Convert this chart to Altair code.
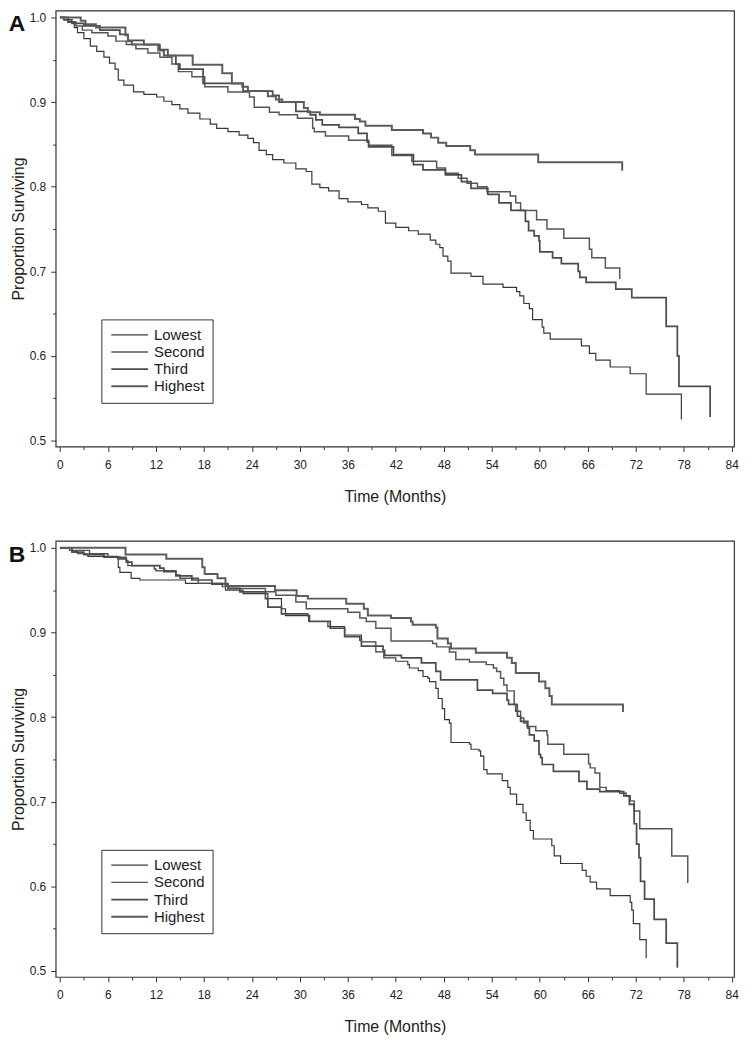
import altair as alt
import pandas as pd

SERIES = ["Lowest", "Second", "Third", "Highest"]
COLORS = ["#383838", "#555555", "#4b4b4b", "#5c5c5c"]
WIDTHS = [1.2, 2.0, 2.2, 2.0]

# ---- Panel A: (time in months, proportion surviving) step points ----
A_LOWEST = [(0, 1.0), (1.0, 0.994), (1.8, 0.988), (2.2, 0.982), (3.0, 0.975), (3.8, 0.966), (4.6, 0.960),
            (5.5, 0.953), (6.2, 0.946), (6.9, 0.939), (7.3, 0.926), (8.0, 0.920), (9.2, 0.912), (10.5, 0.909),
            (12.1, 0.906), (13.0, 0.901), (14.0, 0.897), (15.0, 0.892), (16.0, 0.887), (17.5, 0.880),
            (18.8, 0.874), (19.6, 0.869), (21.0, 0.865), (22.4, 0.861), (23.5, 0.857), (24.2, 0.852),
            (24.9, 0.843), (25.8, 0.838), (26.6, 0.832), (28.0, 0.828), (29.5, 0.821), (30.8, 0.818),
            (31.5, 0.803), (32.5, 0.799), (33.6, 0.795), (34.9, 0.786), (36.0, 0.782), (37.7, 0.779),
            (38.5, 0.775), (39.8, 0.771), (40.7, 0.757), (42.0, 0.752), (43.6, 0.748), (44.8, 0.744),
            (46.3, 0.737), (47.0, 0.732), (47.5, 0.728), (47.9, 0.718), (48.5, 0.712), (48.9, 0.698),
            (51.4, 0.694), (52.9, 0.685), (55.4, 0.681), (57.1, 0.676), (57.5, 0.671), (58.0, 0.662),
            (58.7, 0.656), (59.1, 0.643), (60.3, 0.634), (60.5, 0.627), (61.3, 0.620), (65.2, 0.612),
            (66.2, 0.603), (67.0, 0.595), (68.8, 0.587), (71.3, 0.579), (73.3, 0.555), (77.7, 0.555),
            (77.7, 0.525)]
A_SECOND = [(0, 1.0), (1.0, 0.995), (2.0, 0.990), (2.8, 0.985), (4.0, 0.982), (6.0, 0.978), (7.0, 0.972),
            (8.3, 0.968), (9.5, 0.963), (11.0, 0.958), (12.5, 0.953), (14.0, 0.945), (14.8, 0.936),
            (16.5, 0.930), (18.1, 0.918), (21.0, 0.912), (23.7, 0.906), (24.3, 0.894), (26.2, 0.888),
            (27.4, 0.885), (29.7, 0.881), (31.6, 0.869), (31.8, 0.865), (33.2, 0.860), (36.1, 0.855),
            (38.6, 0.849), (41.5, 0.837), (44.0, 0.830), (47.1, 0.822), (48.2, 0.816), (49.8, 0.810),
            (50.9, 0.804), (52.2, 0.800), (53.4, 0.794), (56.3, 0.789), (57.0, 0.781), (57.6, 0.772),
            (59.6, 0.761), (60.9, 0.750), (63.0, 0.739), (66.2, 0.726), (66.5, 0.716), (68.2, 0.704),
            (70.0, 0.704), (70.0, 0.691)]
A_THIRD = [(0, 1.0), (0.5, 0.997), (1.5, 0.993), (3.0, 0.990), (5.0, 0.985), (7.5, 0.980), (8.5, 0.973),
           (10.5, 0.968), (12.5, 0.962), (13.5, 0.955), (14.5, 0.945), (15.0, 0.939), (17.9, 0.922),
           (22.9, 0.913), (26.6, 0.908), (27.4, 0.900), (29.5, 0.889), (31.3, 0.885), (32.0, 0.879),
           (32.8, 0.873), (34.9, 0.870), (37.3, 0.863), (38.4, 0.853), (38.6, 0.847), (41.7, 0.838),
           (44.2, 0.826), (45.4, 0.820), (48.2, 0.814), (50.2, 0.806), (51.4, 0.798), (53.5, 0.791),
           (54.9, 0.781), (56.4, 0.772), (58.2, 0.759), (58.6, 0.748), (59.3, 0.742), (59.9, 0.736),
           (60.0, 0.723), (61.6, 0.716), (62.7, 0.709), (64.8, 0.700), (65.0, 0.693), (65.8, 0.687),
           (69.5, 0.679), (71.5, 0.669), (75.8, 0.635), (77.2, 0.600), (77.4, 0.564), (81.3, 0.564),
           (81.3, 0.528)]
A_HIGHEST = [(0, 1.0), (2.6, 0.996), (3.2, 0.992), (4.5, 0.988), (8.2, 0.979), (8.5, 0.972), (9.0, 0.968),
             (12.3, 0.961), (13.0, 0.955), (16.6, 0.944), (20.3, 0.934), (21.5, 0.922), (22.8, 0.918),
             (23.5, 0.913), (26.0, 0.907), (27.0, 0.903), (27.8, 0.900), (30.5, 0.893), (31.0, 0.888),
             (32.5, 0.885), (36.9, 0.880), (37.5, 0.877), (38.2, 0.872), (41.5, 0.867), (45.4, 0.863),
             (46.4, 0.858), (47.3, 0.852), (48.3, 0.848), (51.3, 0.843), (51.9, 0.838), (59.8, 0.829),
             (70.3, 0.829), (70.3, 0.819)]

# ---- Panel B ----
B_LOWEST = [(0, 1.0), (1.5, 0.996), (2.2, 0.993), (3.5, 0.990), (7.2, 0.987), (7.3, 0.977), (7.5, 0.971),
            (8.9, 0.964), (10.0, 0.962), (15.7, 0.958), (20.3, 0.954), (20.7, 0.950), (22.9, 0.946),
            (26.0, 0.940), (27.7, 0.928), (28.2, 0.920), (31.1, 0.913), (33.5, 0.907), (35.6, 0.897),
            (37.7, 0.889), (39.5, 0.877), (40.5, 0.870), (42.0, 0.866), (43.5, 0.862), (43.7, 0.858),
            (44.8, 0.855), (45.4, 0.848), (46.0, 0.846), (46.2, 0.842), (47.0, 0.834), (47.3, 0.822),
            (47.8, 0.810), (48.1, 0.797), (48.7, 0.793), (48.9, 0.770), (51.2, 0.768), (51.4, 0.762),
            (52.4, 0.760), (52.6, 0.754), (53.0, 0.738), (53.4, 0.733), (55.3, 0.725), (56.0, 0.717),
            (56.3, 0.709), (57.1, 0.697), (57.9, 0.687), (58.3, 0.678), (58.8, 0.666), (59.2, 0.656),
            (61.5, 0.648), (61.8, 0.636), (62.6, 0.627), (65.3, 0.619), (65.8, 0.612), (66.3, 0.605),
            (67.1, 0.597), (68.8, 0.589), (71.3, 0.581), (71.5, 0.572), (71.7, 0.556), (72.5, 0.537),
            (73.3, 0.537), (73.3, 0.515)]
B_SECOND = [(0, 1.0), (1.2, 0.997), (3.7, 0.993), (6.0, 0.989), (8.3, 0.985), (8.5, 0.979), (11.8, 0.975),
            (12.0, 0.973), (14.5, 0.968), (15.0, 0.964), (17.3, 0.958), (21.0, 0.952), (25.7, 0.948),
            (27.0, 0.944), (29.5, 0.936), (30.8, 0.928), (36.0, 0.924), (37.5, 0.917), (38.3, 0.913),
            (39.5, 0.905), (41.4, 0.890), (46.6, 0.887), (47.1, 0.883), (48.7, 0.877), (49.5, 0.868),
            (51.2, 0.865), (53.3, 0.862), (54.2, 0.858), (54.6, 0.854), (55.1, 0.846), (55.5, 0.838),
            (55.9, 0.831), (56.8, 0.815), (57.2, 0.807), (57.6, 0.799), (58.0, 0.793), (58.4, 0.789),
            (59.5, 0.784), (60.9, 0.779), (61.0, 0.768), (63.0, 0.756), (66.1, 0.745), (66.3, 0.740),
            (66.9, 0.734), (67.5, 0.717), (68.3, 0.713), (70.0, 0.710), (70.8, 0.707), (71.3, 0.701),
            (71.8, 0.689), (72.5, 0.668), (76.5, 0.636), (78.5, 0.636), (78.5, 0.604)]
B_THIRD = [(0, 1.0), (1.5, 0.995), (3.0, 0.992), (5.5, 0.989), (7.5, 0.987), (8.3, 0.983), (9.0, 0.979),
           (12.5, 0.976), (13.0, 0.972), (14.5, 0.967), (16.5, 0.962), (19.0, 0.957), (21.0, 0.952),
           (22.5, 0.948), (25.7, 0.940), (26.0, 0.930), (27.7, 0.922), (31.0, 0.920), (31.2, 0.913),
           (33.8, 0.905), (35.6, 0.895), (37.5, 0.891), (37.7, 0.884), (40.4, 0.879), (40.6, 0.873),
           (42.7, 0.870), (45.2, 0.864), (47.0, 0.854), (47.6, 0.844), (52.2, 0.832), (54.1, 0.828),
           (55.9, 0.820), (56.1, 0.815), (57.0, 0.807), (57.2, 0.801), (57.6, 0.795), (58.5, 0.787),
           (58.7, 0.779), (59.3, 0.772), (59.9, 0.756), (60.1, 0.752), (60.3, 0.744), (61.7, 0.736),
           (64.9, 0.724), (65.9, 0.715), (67.5, 0.712), (70.5, 0.707), (71.2, 0.697), (71.8, 0.674),
           (72.1, 0.650), (72.4, 0.634), (72.6, 0.606), (73.1, 0.585), (74.3, 0.561), (75.8, 0.533),
           (77.2, 0.533), (77.2, 0.504)]
B_HIGHEST = [(0, 1.0), (8.2, 0.992), (13.3, 0.987), (17.8, 0.977), (18.1, 0.969), (19.7, 0.964),
             (20.7, 0.955), (26.9, 0.950), (29.6, 0.943), (31.0, 0.940), (35.8, 0.934), (38.0, 0.928),
             (38.5, 0.920), (41.4, 0.917), (43.9, 0.913), (44.1, 0.909), (47.0, 0.906), (47.2, 0.893),
             (48.5, 0.887), (48.9, 0.881), (52.0, 0.876), (55.9, 0.870), (56.5, 0.864), (57.0, 0.852),
             (59.9, 0.842), (60.7, 0.834), (61.2, 0.825), (61.5, 0.815), (70.4, 0.815), (70.4, 0.806)]

X_TICKS = list(range(0, 85, 3))
Y_TICKS = [0.5, 0.55, 0.6, 0.65, 0.7, 0.75, 0.8, 0.85, 0.9, 0.95, 1.0]
FONT = "Liberation Sans"


def to_frame(curves):
    rows = []
    for name, pts in zip(SERIES, curves):
        for i, (t, s) in enumerate(pts):
            rows.append({"series": name, "t": t, "s": s, "idx": i})
    return pd.DataFrame(rows)


def panel(curves, letter):
    df = to_frame(curves)
    legend = alt.Legend(
        orient="none", legendX=46, legendY=311, direction="vertical", title=None,
        strokeColor="#333333", fillColor="white", padding=8,
        symbolType="M-3.7,0H3.7", symbolSize=100, symbolOffset=13,
        labelOffset=17, labelFontSize=15, labelFont=FONT, labelColor="#222222",
        rowPadding=1.3,
    )
    lines = alt.Chart(df).mark_line(interpolate="step-after").encode(
        x=alt.X("t:Q", title="Time (Months)",
                scale=alt.Scale(domain=[-0.53, 84.29], nice=False, zero=False),
                axis=alt.Axis(values=X_TICKS,
                              labelExpr="datum.value % 6 === 0 ? datum.label : ''",
                              tickSize={"condition": {"test": "datum.value % 6 === 0", "value": 5}, "value": 3},
                              labelPadding=8, titlePadding=18)),
        y=alt.Y("s:Q", title="Proportion Surviving",
                scale=alt.Scale(domain=[0.493, 1.0082], nice=False, zero=False),
                axis=alt.Axis(values=Y_TICKS,
                              labelExpr="round(datum.value * 100) % 10 === 0 ? format(datum.value, '.1f') : ''",
                              tickSize={"condition": {"test": "round(datum.value * 100) % 10 === 0", "value": 5}, "value": 3},
                              labelPadding=5, titlePadding=3)),
        color=alt.Color("series:N", scale=alt.Scale(domain=SERIES, range=COLORS), legend=legend),
        strokeWidth=alt.StrokeWidth("series:N", scale=alt.Scale(domain=SERIES, range=WIDTHS), legend=legend),
        order=alt.Order("idx:Q"),
    )
    tag = alt.Chart(pd.DataFrame({"label": [letter]})).mark_text(
        font=FONT, fontSize=23, fontWeight="bold", align="center", baseline="top", color="#111111"
    ).encode(text="label:N", x=alt.value(-39), y=alt.value(3))
    return alt.layer(lines, tag).properties(width=683, height=439)


panel_a = panel([A_LOWEST, A_SECOND, A_THIRD, A_HIGHEST], "A")
panel_b = panel([B_LOWEST, B_SECOND, B_THIRD, B_HIGHEST], "B")

chart = alt.vconcat(panel_a, panel_b, spacing=95, bounds="flush").resolve_scale(
    color="independent", strokeWidth="independent"
).resolve_legend(
    color="independent", strokeWidth="independent"
).properties(
    padding={"left": 0, "top": -2, "right": 5, "bottom": 5},
).configure(
    background="white",
).configure_view(
    stroke="#333333", strokeWidth=1.2,
).configure_axis(
    domain=False, grid=False, tickColor="#333333", tickWidth=1,
    labelFont=FONT, labelFontSize=12, labelColor="#222222",
    titleFont=FONT, titleFontSize=16, titleFontWeight="normal", titleColor="#222222",
)

chart.save("out.html", embed_options={"renderer": "svg", "actions": False})
